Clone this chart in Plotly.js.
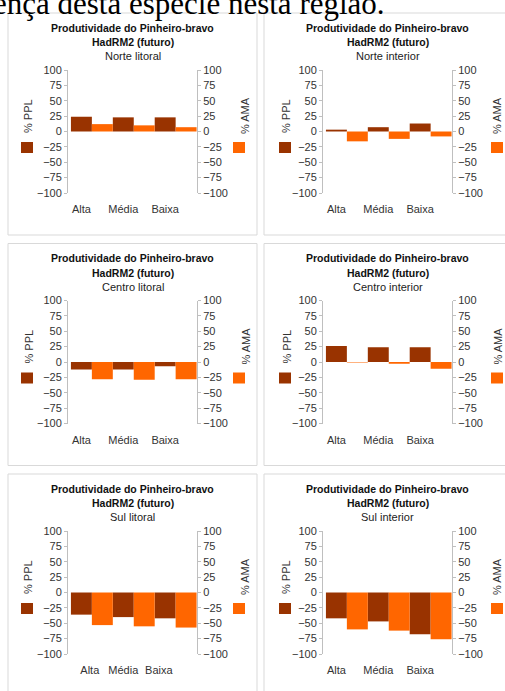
<!DOCTYPE html>
<html><head><meta charset="utf-8">
<script src="https://cdn.plot.ly/plotly-3.0.1.min.js"></script>
<style>html,body{margin:0;padding:0;background:#fff;overflow:hidden}#chart{width:505px;height:691px}</style>
</head><body><div id="chart"></div>
<script>
// ---------- data ----------
const categories = ['Alta', 'Média', 'Baixa'];
const regions = ['Norte litoral', 'Norte interior', 'Centro litoral', 'Centro interior', 'Sul litoral', 'Sul interior'];
const pplNorteLitoral   = [24, 23, 23];
const amaNorteLitoral   = [12, 10, 7];
const pplNorteInterior  = [3, 7, 13];
const amaNorteInterior  = [-16, -12, -8];
const pplCentroLitoral  = [-12, -12, -7];
const amaCentroLitoral  = [-28, -29, -28];
const pplCentroInterior = [26, 24, 24];
const amaCentroInterior = [-1, -3, -11];
const pplSulLitoral     = [-36, -40, -42];
const amaSulLitoral     = [-53, -55, -57];
const pplSulInterior    = [-42, -47, -68];
const amaSulInterior    = [-60, -62, -76];
const yTicks = [100, 75, 50, 25, 0, -25, -50, -75, -100];
const titleLine1 = 'Produtividade do Pinheiro-bravo';
const titleLine2 = 'HadRM2 (futuro)';
const leftAxisTitle = '% PPL';
const rightAxisTitle = '% AMA';
const headerText = 'ença desta espécie nesta região.';

const pplSeries = [pplNorteLitoral, pplNorteInterior, pplCentroLitoral, pplCentroInterior, pplSulLitoral, pplSulInterior];
const amaSeries = [amaNorteLitoral, amaNorteInterior, amaCentroLitoral, amaCentroInterior, amaSulLitoral, amaSulInterior];

// ---------- layout helpers ----------
const W = 505, H = 691;
const px = x => x / W;
const py = y => 1 - y / H;
const colLeft = [8, 264];
const rowTop = [13, 243.5, 474];
const panelW = 249, panelH = 222;
const plotL = [60, 59], plotR = [189, 188];
const plotT = 57, plotB = 180;
const rightTitleOff = [237, 233];
const DARK = '#993300', ORANGE = '#FF6600';
const FONT = 'Liberation Sans, Arial, sans-serif';
const AXC = '#bfbfbf';

const traces = [];
const layout = {
  width: W, height: H,
  margin: {l: 0, r: 0, t: 0, b: 0},
  paper_bgcolor: '#ffffff', plot_bgcolor: 'rgba(0,0,0,0)',
  showlegend: false,
  barmode: 'overlay',
  font: {family: FONT, size: 11, color: '#333'},
  annotations: [], shapes: []
};

layout.annotations.push({
  xref: 'paper', yref: 'paper', x: px(-9), y: py(4), xanchor: 'left', yanchor: 'middle',
  text: headerText, showarrow: false,
  font: {family: 'Liberation Serif, Times New Roman, serif', size: 31, color: '#000'}
});

for (let k = 0; k < 6; k++) {
  const r = Math.floor(k / 2), c = k % 2;
  const L = colLeft[c], T = rowTop[r];
  const xa = 'x' + (k + 1), ya = 'y' + (2 * k + 1), ya2 = 'y' + (2 * k + 2);
  const xk = 'xaxis' + (k + 1), yk = 'yaxis' + (2 * k + 1), yk2 = 'yaxis' + (2 * k + 2);

  traces.push({type: 'bar', x: categories, y: pplSeries[k], xaxis: xa, yaxis: ya,
    width: 0.5, offset: -0.25, marker: {color: DARK, line: {width: 0}}, name: leftAxisTitle});
  traces.push({type: 'bar', x: categories, y: amaSeries[k], xaxis: xa, yaxis: ya2,
    width: 0.5, offset: 0.25, marker: {color: ORANGE, line: {width: 0}}, name: rightAxisTitle});

  const xdom = [px(L + plotL[c]), px(L + plotR[c])];
  const ydom = [py(T + plotB), py(T + plotT)];
  const xax = {
    domain: xdom, anchor: ya, type: 'category', range: [-0.32, 2.76],
    showline: false, showgrid: false, zeroline: false, ticks: '',
    tickfont: {size: 11, color: '#333'}, ticklabelstandoff: 8, fixedrange: true
  };
  if (k === 4) { xax.tickmode = 'array'; xax.tickvals = [0.2, 1.0, 1.85]; xax.ticktext = categories; }
  layout[xk] = xax;
  const yax = {
    domain: ydom, anchor: xa, range: [-100, 100], tickmode: 'array', tickvals: yTicks,
    showline: true, linecolor: AXC, linewidth: 1, ticks: 'outside', ticklen: 3, tickcolor: AXC,
    showgrid: false, zeroline: false, tickfont: {size: 11, color: '#333'}, fixedrange: true
  };
  layout[yk] = Object.assign({}, yax, {side: 'left'});
  layout[yk2] = Object.assign({}, yax, {side: 'right', overlaying: ya});

  // panel frame
  layout.shapes.push({type: 'rect', xref: 'paper', yref: 'paper', x0: px(L), x1: px(L + panelW),
    y0: py(T + panelH), y1: py(T), line: {color: '#d9d9d9', width: 1}, fillcolor: 'rgba(0,0,0,0)', layer: 'below'});
  // legend keys
  layout.shapes.push({type: 'rect', xref: 'paper', yref: 'paper', x0: px(L + 13 + c * 2), x1: px(L + 25 + c * 2),
    y0: py(T + 140), y1: py(T + 129), line: {width: 0}, fillcolor: DARK});
  layout.shapes.push({type: 'rect', xref: 'paper', yref: 'paper', x0: px(L + 225 + c * 2), x1: px(L + 237 + c * 2),
    y0: py(T + 140), y1: py(T + 129), line: {width: 0}, fillcolor: ORANGE});

  const cx = px(L + (plotL[c] + plotR[c]) / 2);
  layout.annotations.push({xref: 'paper', yref: 'paper', x: cx, y: py(T + 15), xanchor: 'center', yanchor: 'middle',
    text: '<b>' + titleLine1 + '</b>', showarrow: false, font: {size: 10.5, color: '#111'}});
  layout.annotations.push({xref: 'paper', yref: 'paper', x: cx, y: py(T + 29), xanchor: 'center', yanchor: 'middle',
    text: '<b>' + titleLine2 + '</b>', showarrow: false, font: {size: 10.5, color: '#111'}});
  layout.annotations.push({xref: 'paper', yref: 'paper', x: cx, y: py(T + 43), xanchor: 'center', yanchor: 'middle',
    text: regions[k], showarrow: false, font: {size: 11, color: '#222'}});
  layout.annotations.push({xref: 'paper', yref: 'paper', x: px(L + 20 + c * 2), y: py(T + 103), xanchor: 'center', yanchor: 'middle',
    text: leftAxisTitle, textangle: -90, showarrow: false, font: {size: 11, color: '#333'}});
  layout.annotations.push({xref: 'paper', yref: 'paper', x: px(L + rightTitleOff[c]), y: py(T + 103), xanchor: 'center', yanchor: 'middle',
    text: rightAxisTitle, textangle: -90, showarrow: false, font: {size: 11, color: '#333'}});
}

Plotly.newPlot('chart', traces, layout, {displayModeBar: false, staticPlot: true});
</script>
</body></html>
